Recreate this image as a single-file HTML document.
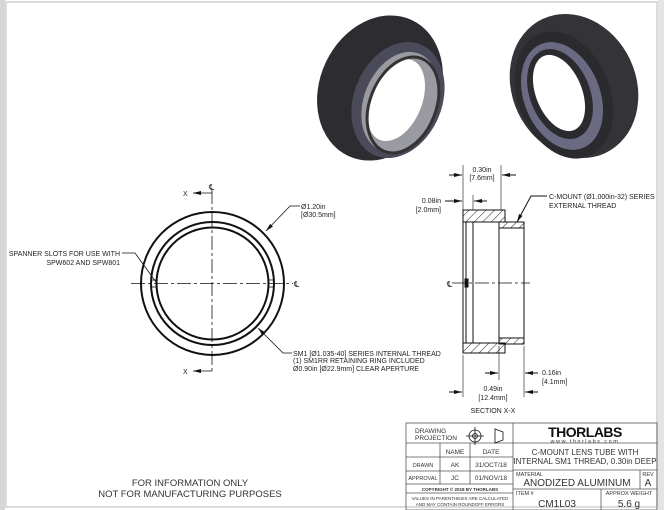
<!DOCTYPE html>
<html><head><meta charset="utf-8"><style>
html,body{margin:0;padding:0;background:#fff;}
svg{display:block;font-family:"Liberation Sans",sans-serif;}
</style></head><body>
<svg width="664" height="510" viewBox="0 0 664 510" xmlns="http://www.w3.org/2000/svg">
<defs>
<pattern id="h" width="6" height="6" patternUnits="userSpaceOnUse" patternTransform="rotate(45)"><line x1="0" y1="0" x2="0" y2="6" stroke="#222" stroke-width="1"/></pattern>
<marker id="a" markerWidth="8" markerHeight="6" refX="8" refY="3" orient="auto" markerUnits="userSpaceOnUse"><path d="M0,1 L8,3 L0,5z" fill="#111"/></marker>
</defs>
<rect x="0" y="0" width="5" height="510" fill="#d6d6d6"/>
<rect x="6" y="2" width="651" height="505" fill="none" stroke="#cfcfcf" stroke-width="1.5"/>
<rect x="658" y="0" width="6" height="510" fill="#e4e4e4"/>

<!-- 3D left ring -->
<g>
<ellipse cx="380" cy="88" rx="60" ry="75" fill="#2d2d31" transform="rotate(25 380 88)"/>
<ellipse cx="398" cy="100" rx="44" ry="60" fill="#4a4a5a" transform="rotate(22 398 100)"/>
<ellipse cx="400" cy="102" rx="36" ry="52" fill="#9a9aa2" transform="rotate(22 400 102)"/>
<ellipse cx="396" cy="100" rx="26" ry="43" fill="#fff" transform="rotate(22 396 100)"/>
<ellipse cx="403" cy="105" rx="33" ry="50" fill="none" stroke="#333" stroke-width="3" transform="rotate(22 403 105)"/>
</g>
<!-- 3D right ring -->
<g>
<ellipse cx="574" cy="86" rx="62" ry="74" fill="#333338" transform="rotate(-25 574 86)"/>
<ellipse cx="564" cy="95" rx="46" ry="66" fill="#2b2b2f" transform="rotate(-22 564 95)"/>
<ellipse cx="562" cy="96" rx="38" ry="56" fill="#6a6a82" transform="rotate(-22 562 96)"/>
<ellipse cx="560" cy="94" rx="30" ry="47" fill="#2b2b2f" transform="rotate(-22 560 94)"/>
<ellipse cx="559" cy="93" rx="23" ry="40" fill="#fff" transform="rotate(-22 559 93)"/>
</g>

<!-- front view -->
<g fill="none" stroke="#111">
<circle cx="212.5" cy="283.5" r="71.5" stroke-width="2"/>
<circle cx="212.5" cy="283.5" r="61.5" stroke-width="2"/>
<circle cx="212.5" cy="283.5" r="56" stroke-width="2"/>
<line x1="212" y1="190" x2="212" y2="373" stroke-width="0.8" stroke-dasharray="14,3,3,3"/>
<line x1="131" y1="283.5" x2="293" y2="283.5" stroke-width="0.8" stroke-dasharray="14,3,3,3"/>
<rect x="151" y="280" width="6" height="7" stroke-width="0.8"/>
<rect x="268" y="280" width="6" height="7" stroke-width="0.8"/>
<line x1="212" y1="193" x2="193" y2="193" marker-end="url(#a)" stroke-width="0.8"/>
<line x1="212" y1="371" x2="193" y2="371" marker-end="url(#a)" stroke-width="0.8"/>
<polyline points="300,206 290,206 266,231" marker-end="url(#a)" stroke-width="0.8"/>
<polyline points="122,253 135,253 156,282" stroke-width="0.8"/>
<polyline points="292,353 283,353 258,328" marker-end="url(#a)" stroke-width="0.8"/>
</g>
<g font-size="7" fill="#222">
<text x="183" y="196">X</text><text x="183" y="374">X</text>
<text x="209" y="190" font-size="8">℄</text>
<text x="294" y="287" font-size="8">℄</text>
<text x="301" y="209">Ø1.20in</text><text x="301" y="217">[Ø30.5mm]</text>
<text x="120" y="256" text-anchor="end">SPANNER SLOTS FOR USE WITH</text>
<text x="120" y="265" text-anchor="end">SPW602 AND SPW801</text>
<text x="293" y="356">SM1 [Ø1.035-40] SERIES INTERNAL THREAD</text>
<text x="293" y="363">(1) SM1RR RETAINING RING INCLUDED</text>
<text x="293" y="371">Ø0.90in [Ø22.9mm] CLEAR APERTURE</text>
</g>

<!-- side section -->
<g stroke="#111" stroke-width="1">
<rect x="463" y="210" width="42" height="12" fill="url(#h)"/>
<rect x="463" y="343" width="42" height="10" fill="url(#h)"/>
<rect x="499" y="222" width="25" height="6" fill="url(#h)"/>
<rect x="499" y="338" width="25" height="6" fill="url(#h)"/>
<g fill="none">
<line x1="463" y1="210" x2="463" y2="353"/>
<line x1="473" y1="222" x2="473" y2="343"/>
<line x1="499" y1="222" x2="499" y2="343"/>
<line x1="524" y1="222" x2="524" y2="344"/>
<line x1="466" y1="222" x2="466" y2="343"/>
<line x1="452" y1="283" x2="530" y2="283" stroke-width="0.7" stroke-dasharray="14,3,3,3"/>
<line x1="463" y1="165" x2="463" y2="210" stroke-width="0.6"/>
<line x1="501" y1="165" x2="501" y2="210" stroke-width="0.6"/>
<line x1="473" y1="195" x2="473" y2="210" stroke-width="0.6"/>
<line x1="463" y1="355" x2="463" y2="397" stroke-width="0.6"/>
<line x1="524" y1="346" x2="524" y2="397" stroke-width="0.6"/>
<line x1="499" y1="346" x2="499" y2="380" stroke-width="0.6"/>
<line x1="449" y1="175" x2="462" y2="175" marker-end="url(#a)"/>
<line x1="516" y1="175" x2="502" y2="175" marker-end="url(#a)"/>
<line x1="445" y1="201" x2="462" y2="201" marker-end="url(#a)"/>
<line x1="487" y1="201" x2="474" y2="201" marker-end="url(#a)"/>
<line x1="485" y1="373" x2="498" y2="373" marker-end="url(#a)"/>
<line x1="538" y1="373" x2="525" y2="373" marker-end="url(#a)"/>
<line x1="449" y1="392" x2="462" y2="392" marker-end="url(#a)"/>
<line x1="538" y1="392" x2="525" y2="392" marker-end="url(#a)"/>
<polyline points="547,196 531,196 517,222" marker-end="url(#a)"/>
</g>
<rect x="465" y="279" width="3" height="8" fill="#111"/>
</g>
<g font-size="7" fill="#222">
<text x="482" y="172" text-anchor="middle">0.30in</text><text x="482" y="180" text-anchor="middle">[7.6mm]</text>
<text x="441" y="203" text-anchor="end">0.08in</text><text x="441" y="212" text-anchor="end">[2.0mm]</text>
<text x="447" y="287" font-size="8">℄</text>
<text x="549" y="199">C-MOUNT (Ø1.000in-32) SERIES</text>
<text x="549" y="208">EXTERNAL THREAD</text>
<text x="542" y="375">0.16in</text><text x="542" y="384">[4.1mm]</text>
<text x="493" y="391" text-anchor="middle">0.49in</text><text x="493" y="400" text-anchor="middle">[12.4mm]</text>
<text x="493" y="413" text-anchor="middle">SECTION X-X</text>
</g>

<!-- title block -->
<g stroke="#555" stroke-width="0.8" fill="none">
<rect x="406" y="423" width="251" height="87"/>
<line x1="513" y1="423" x2="513" y2="510"/>
<line x1="406" y1="443" x2="657" y2="443"/>
<line x1="406" y1="457" x2="513" y2="457"/>
<line x1="406" y1="471" x2="513" y2="471"/>
<line x1="406" y1="484" x2="513" y2="484"/>
<line x1="406" y1="493" x2="513" y2="493"/>
<line x1="440" y1="443" x2="440" y2="484"/>
<line x1="470" y1="443" x2="470" y2="484"/>
<line x1="513" y1="470" x2="657" y2="470"/>
<line x1="513" y1="489" x2="657" y2="489"/>
<line x1="640" y1="470" x2="640" y2="489"/>
<line x1="601" y1="489" x2="601" y2="510"/>
<circle cx="475" cy="436" r="6" stroke="#111"/><circle cx="475" cy="436" r="2.5" stroke="#111"/>
<line x1="466" y1="436" x2="484" y2="436" stroke="#111"/><line x1="475" y1="427" x2="475" y2="445" stroke="#111"/>
<path d="M503,432 L495,429 L495,443 L503,440 Z" stroke="#111"/>
</g>
<g font-size="6.5" fill="#333">
<text x="415" y="433">DRAWING</text><text x="415" y="440">PROJECTION</text>
<text x="455" y="454" text-anchor="middle">NAME</text><text x="491" y="454" text-anchor="middle">DATE</text>
<text x="423" y="467" text-anchor="middle" font-size="5.5">DRAWN</text><text x="455" y="467" text-anchor="middle">AK</text><text x="491" y="467" text-anchor="middle">31/OCT/18</text>
<text x="423" y="480" text-anchor="middle" font-size="5.5">APPROVAL</text><text x="455" y="480" text-anchor="middle">JC</text><text x="491" y="480" text-anchor="middle">01/NOV/18</text>
<text x="460" y="491" text-anchor="middle" font-size="4.5" font-weight="bold">COPYRIGHT © 2018 BY THORLABS</text>
<text x="460" y="500" text-anchor="middle" font-size="4.5">VALUES IN PARENTHESIS ARE CALCULATED</text>
<text x="460" y="506" text-anchor="middle" font-size="4.5">AND MAY CONTAIN ROUNDOFF ERRORS</text>
<text x="585" y="437" text-anchor="middle" font-size="14" font-weight="bold" fill="#111" letter-spacing="-0.5">THORLABS</text>
<text x="585" y="443" text-anchor="middle" font-size="5.5" letter-spacing="1.5">www.thorlabs.com</text>
<text x="585" y="455" text-anchor="middle" font-size="8">C-MOUNT LENS TUBE WITH</text>
<text x="585" y="464" text-anchor="middle" font-size="8">INTERNAL SM1 THREAD, 0.30in DEEP</text>
<text x="516" y="476" font-size="5.5">MATERIAL</text>
<text x="577" y="486" text-anchor="middle" font-size="10">ANODIZED ALUMINUM</text>
<text x="648" y="476" text-anchor="middle" font-size="5.5">REV</text>
<text x="648" y="486" text-anchor="middle" font-size="10">A</text>
<text x="516" y="495" font-size="5.5">ITEM #</text>
<text x="557" y="507" text-anchor="middle" font-size="10">CM1L03</text>
<text x="629" y="495" text-anchor="middle" font-size="5.5">APPROX WEIGHT</text>
<text x="629" y="507" text-anchor="middle" font-size="10">5.6 g</text>
</g>

<g font-size="9.5" fill="#333" text-anchor="middle">
<text x="190" y="486">FOR INFORMATION ONLY</text>
<text x="190" y="497">NOT FOR MANUFACTURING PURPOSES</text>
</g>
</svg>
</body></html>
